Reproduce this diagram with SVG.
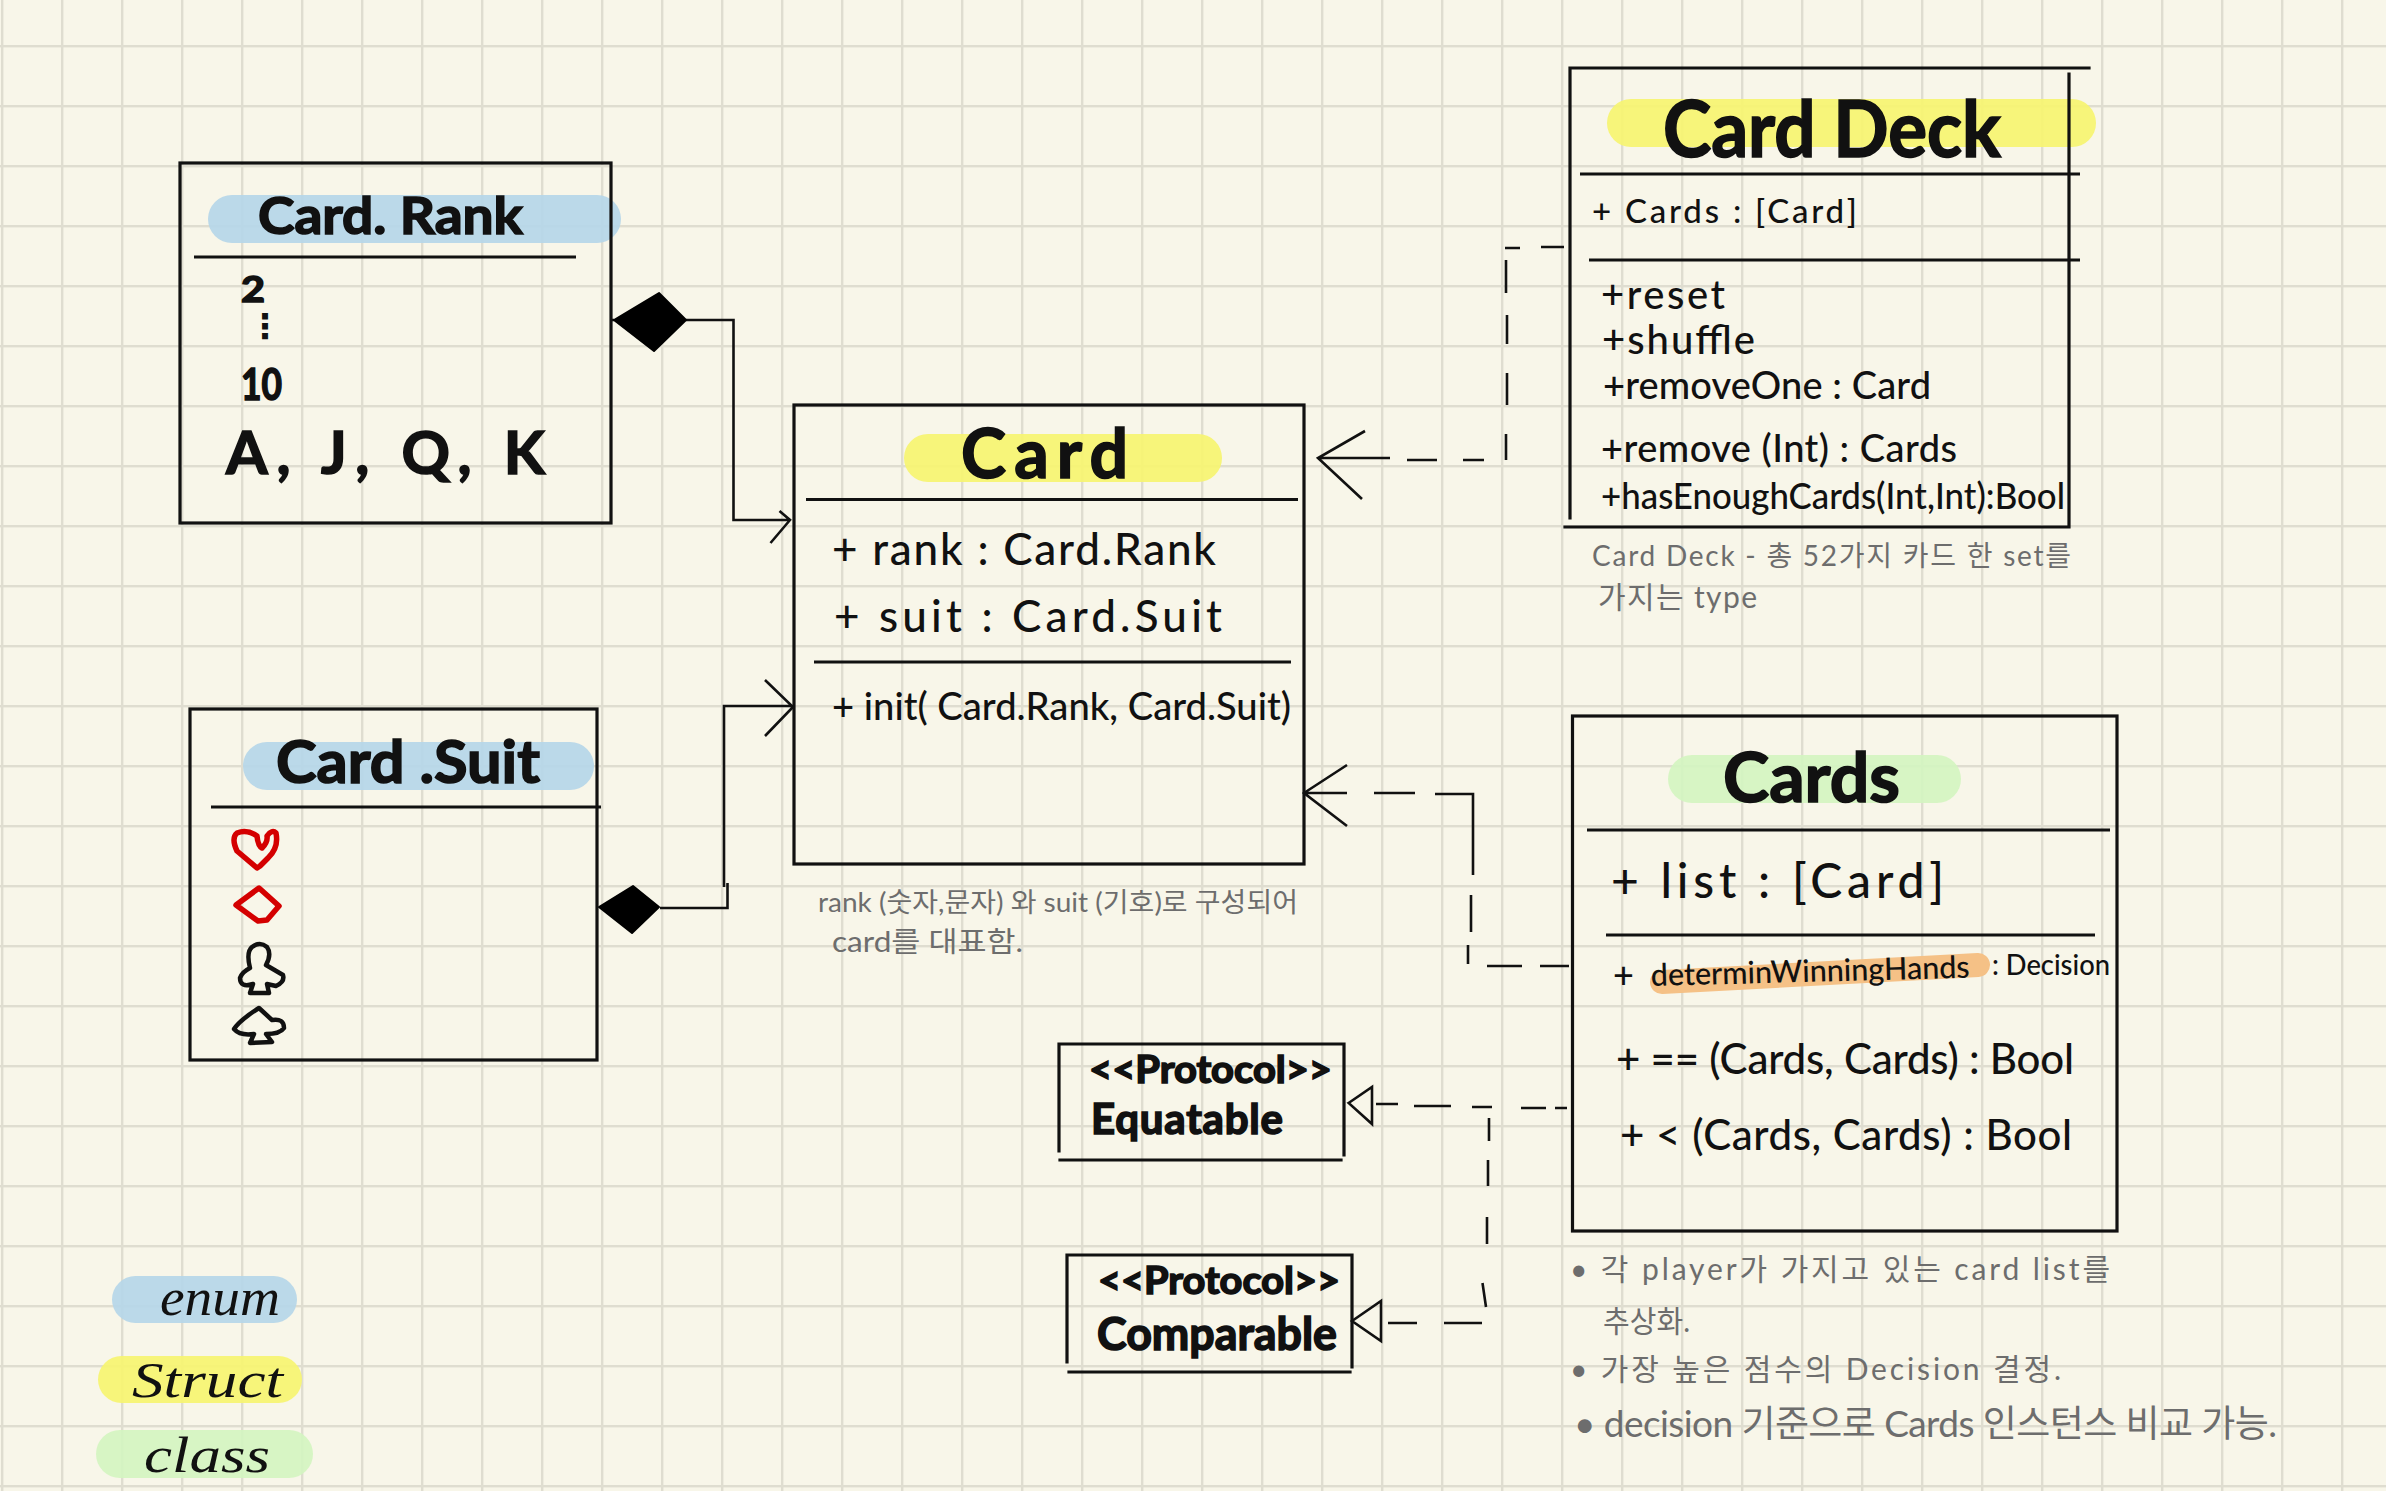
<svg xmlns="http://www.w3.org/2000/svg" width="2386" height="1491" viewBox="0 0 2386 1491">
<style>
text{font-family:"Lato","Noto Sans CJK KR",sans-serif;fill:#111}
.t{font-weight:700;stroke:#111;stroke-width:1.6;paint-order:stroke}
.m{font-weight:500}
.b{font-weight:700}
.n{fill:#6d6d6d;font-weight:400}
.i{font-style:italic;font-family:"Liberation Serif","Noto Sans CJK KR",serif;font-weight:400}
.box{fill:none;stroke:#111;stroke-width:3.2;stroke-linecap:square}
.div{fill:none;stroke:#111;stroke-width:2.8}
.con{fill:none;stroke:#111;stroke-width:2.6}
.blue{fill:#b5d6e8;fill-opacity:.92}
.yel{fill:#f6f470;fill-opacity:.92}
.grn{fill:#d3f5c0;fill-opacity:.9}
.org{fill:none;stroke:#f5c186;stroke-width:24;stroke-linecap:round}
.red{fill:none;stroke:#d40000;stroke-width:5.5;stroke-linejoin:round}
.blk{fill:none;stroke:#111;stroke-width:4.5;stroke-linejoin:round}
</style>
<defs>
<pattern id="grid" x="1" y="45" width="60" height="60" patternUnits="userSpaceOnUse">
<rect width="60" height="60" fill="#f8f6e9"/>
<rect width="2.400" height="60" fill="#dfddd0"/>
<rect width="60" height="2.400" fill="#dfddd0"/>
</pattern>
</defs>
<rect id="paper" width="2386" height="1491" fill="url(#grid)"/>

<g id="connectors">
<path class="con" d="M614 320L611 320M686 320H733.500V520H790M779.500 511L790 520L770.500 543"/>
<path class="con" d="M660 908H727.500V883M724 887V706H793M765 680L793 707L765 736"/>
<path class="con" d="M1318 458H1390M1407 460H1437M1463 460H1484M1506 434V460M1507 373V405M1507 315V344M1506 260V293M1505 248H1520M1541 247H1564M1365 431L1318 458L1362 499"/>
<path class="con" d="M1304 793H1347M1374 793H1415M1435 794H1473V875M1471 895V932M1468 945V964M1487 966H1522M1540 966H1569M1347 765L1304 793L1347 826"/>
<path class="con" d="M1348.600 1103L1372 1087V1124ZM1376 1104H1398M1414 1106H1451M1472 1107H1492M1521 1108H1546M1555 1108H1567M1489 1118V1141M1488 1160V1186M1487 1217V1244M1482.500 1283L1486 1307"/>
<path class="con" d="M1352 1321L1381 1301V1341ZM1388 1323H1417M1444 1323H1482"/>
</g>

<g id="card-rank">
<rect class="blue" x="208" y="195" width="413" height="48" rx="24"/>
<rect class="box" x="180" y="163" width="431" height="360"/>
<path class="div" d="M194 257H576"/>
<text class="t" x="258" y="234" font-size="52" textLength="265" lengthAdjust="spacingAndGlyphs">Card. Rank</text>
<text class="t" x="241" y="302" font-size="36" textLength="24" lengthAdjust="spacingAndGlyphs">2</text>
<text x="248" y="338" font-size="34" font-weight="700" style="font-family:'DejaVu Sans',sans-serif">⋮</text>
<text class="t" x="241" y="400" font-size="44" textLength="41" lengthAdjust="spacingAndGlyphs">10</text>
<text class="t" x="226" y="474" font-size="60" textLength="319" lengthAdjust="spacing">A, J, Q, K</text>
<path fill="#000" stroke="#000" stroke-width="2" stroke-linejoin="round" d="M614 320L659 293L686 320L654 351Z"/>
</g>

<g id="card-suit">
<rect class="blue" x="243" y="742" width="351" height="48" rx="24"/>
<rect class="box" x="190" y="709" width="407" height="351"/>
<path class="div" d="M211 807H601"/>
<text class="t" x="276" y="783" font-size="60" textLength="264" lengthAdjust="spacingAndGlyphs">Card .Suit</text>
<path class="red" d="M257 868L237 851Q231 838 237 833Q247 829 257 836Q258 846 262 848Q268 842 267 836Q272 829 276 833Q279 848 268 858L260 866Z"/>
<path class="red" d="M259 888L279 906L267 920L258 921L236 905Z"/>
<path class="blk" d="M250 968Q246 952 252 947Q260 941 267 947Q272 954 266 965L283 975Q285 982 276 986L267 984L269 993H250L253 984Q240 988 240 978Q242 972 250 968Z"/>
<path class="blk" d="M259 1008L272 1020Q284 1018 284 1028Q280 1034 266 1034L272 1042L250 1043L254 1034Q240 1036 234 1029Q240 1020 259 1008Z"/>
<path fill="#000" stroke="#000" stroke-width="2" stroke-linejoin="round" d="M599 907L633 886L659 907L632 933Z"/>
</g>

<g id="card">
<rect class="yel" x="904" y="434" width="318" height="48" rx="24"/>
<rect class="box" x="794" y="405" width="510" height="459"/>
<path class="div" d="M806 499.500H1298M814 662H1291"/>
<text class="t" x="961" y="478" font-size="68" textLength="167" lengthAdjust="spacing">Card</text>
<text class="m" x="832" y="565" font-size="44" textLength="384" lengthAdjust="spacing">+ rank : Card.Rank</text>
<text class="m" x="834" y="632" font-size="44" textLength="388" lengthAdjust="spacing">+ suit : Card.Suit</text>
<text class="m" x="832" y="720" font-size="38" textLength="459" lengthAdjust="spacingAndGlyphs">+ init( Card.Rank, Card.Suit)</text>
<text class="n" x="818" y="912" font-size="27" textLength="480" lengthAdjust="spacingAndGlyphs">rank (숫자,문자) 와 suit (기호)로 구성되어</text>
<text class="n" x="832" y="952" font-size="28" textLength="191" lengthAdjust="spacingAndGlyphs">card를 대표함.</text>
</g>

<g id="card-deck">
<rect class="yel" x="1607" y="99" width="489" height="48" rx="24"/>
<path class="box" d="M1570 518V68H2089M2069 74V527H1565"/>
<path class="div" d="M1580 174H2080M1589 260H2080"/>
<text class="t" x="1663" y="157" font-size="78" textLength="338" lengthAdjust="spacingAndGlyphs">Card Deck</text>
<text class="m" x="1592" y="223" font-size="33" textLength="265" lengthAdjust="spacing">+ Cards : [Card]</text>
<text class="m" x="1601" y="309" font-size="40" textLength="124" lengthAdjust="spacing">+reset</text>
<text class="m" x="1602" y="354" font-size="40" textLength="153" lengthAdjust="spacing">+shuffle</text>
<text class="m" x="1603" y="399" font-size="38" textLength="328" lengthAdjust="spacing">+removeOne : Card</text>
<text class="m" x="1601" y="462" font-size="38" textLength="356" lengthAdjust="spacing">+remove (Int) : Cards</text>
<text class="m" x="1601" y="509" font-size="36" textLength="464" lengthAdjust="spacingAndGlyphs">+hasEnoughCards(Int,Int):Bool</text>
<text class="n" x="1592" y="566" font-size="28" textLength="479" lengthAdjust="spacing">Card Deck - 총 52가지 카드 한 set를</text>
<text class="n" x="1598" y="608" font-size="30" textLength="159" lengthAdjust="spacing">가지는 type</text>
</g>

<g id="cards">
<rect class="grn" x="1668" y="755" width="293" height="48" rx="24"/>
<path class="org" d="M1662 982L1978 965"/>
<rect class="box" x="1572.500" y="716" width="544.500" height="515"/>
<path class="div" d="M1587 830H2110M1606 935H2095"/>
<text class="t" x="1723" y="802" font-size="68" textLength="177" lengthAdjust="spacingAndGlyphs">Cards</text>
<text class="m" x="1611" y="898" font-size="48" textLength="333" lengthAdjust="spacing">+ list : [Card]</text>
<text class="m" x="1613" y="988" font-size="36">+</text>
<text class="m" x="1651" y="986" font-size="31" textLength="319" lengthAdjust="spacingAndGlyphs" transform="rotate(-1.500 1651 986)">determinWinningHands</text>
<text class="m" x="1992" y="975" font-size="28" textLength="118" lengthAdjust="spacingAndGlyphs">: Decision</text>
<text class="m" x="1616" y="1074" font-size="42" textLength="458" lengthAdjust="spacing">+ == (Cards, Cards) : Bool</text>
<text class="m" x="1620" y="1150" font-size="42" textLength="452" lengthAdjust="spacing">+ &lt; (Cards, Cards) : Bool</text>
<text class="n" x="1570" y="1280" font-size="30" textLength="540" lengthAdjust="spacing">• 각 player가 가지고 있는 card list를</text>
<text class="n" x="1603" y="1332" font-size="30" textLength="87" lengthAdjust="spacingAndGlyphs">추상화.</text>
<text class="n" x="1570" y="1380" font-size="30" textLength="491" lengthAdjust="spacing">• 가장 높은 점수의 Decision 결정.</text>
<text class="n" x="1574" y="1437" font-size="37" textLength="703" lengthAdjust="spacing">• decision 기준으로 Cards 인스턴스 비교 가능.</text>
</g>

<g id="equatable">
<path class="box" d="M1059 1151V1044H1344V1155M1060 1160H1341"/>
<text class="t" x="1089" y="1083" font-size="38" textLength="243" lengthAdjust="spacingAndGlyphs">&lt;&lt;Protocol&gt;&gt;</text>
<text class="t" x="1091" y="1134" font-size="42" textLength="192" lengthAdjust="spacing">Equatable</text>
</g>

<g id="comparable">
<path class="box" d="M1067 1362V1255H1352V1367M1069 1372H1350"/>
<text class="t" x="1098" y="1294" font-size="38" textLength="242" lengthAdjust="spacingAndGlyphs">&lt;&lt;Protocol&gt;&gt;</text>
<text class="t" x="1097" y="1350" font-size="46" textLength="240" lengthAdjust="spacingAndGlyphs">Comparable</text>
</g>

<g id="legend">
<rect class="blue" x="112" y="1276" width="185" height="47" rx="23.500"/>
<rect class="yel" x="98" y="1356" width="204" height="47" rx="23.500"/>
<rect class="grn" x="96" y="1430" width="217" height="48" rx="24"/>
<text class="i" x="160" y="1315" font-size="52" textLength="120" lengthAdjust="spacingAndGlyphs">enum</text>
<text class="i" x="132" y="1397" font-size="50" textLength="151" lengthAdjust="spacingAndGlyphs">Struct</text>
<text class="i" x="144" y="1472" font-size="50" textLength="126" lengthAdjust="spacingAndGlyphs">class</text>
</g>
</svg>
